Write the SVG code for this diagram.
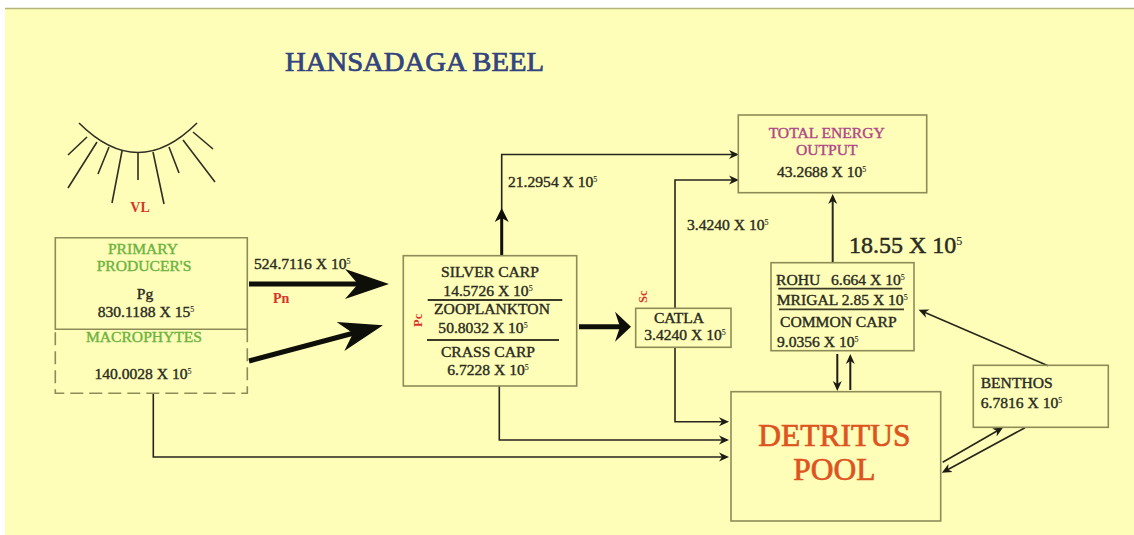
<svg xmlns="http://www.w3.org/2000/svg" width="1134" height="535" viewBox="0 0 1134 535">
<style>
text{font-family:"Liberation Serif","Times New Roman",serif;font-size:15.6px;fill:#2b2b22;stroke:#2b2b22;stroke-width:.4}
.m{text-anchor:middle}
.g{fill:#6db340;stroke:#6db340}
.r{fill:#d8332a;stroke:#d8332a;font-size:14px;font-weight:bold;stroke-width:0}
.rs{font-size:12.5px}
.p{fill:#b0468a;stroke:#b0468a}
.s{font-size:8px;stroke-width:.1}
.b{fill:none;stroke:#8d8c58;stroke-width:1.6}
.rule{stroke:#3a3a28;stroke-width:1.8}
.thin{fill:none;stroke:#26261c;stroke-width:1.6;marker-end:url(#ah)}
.lash{fill:none;stroke:#2f2f24;stroke-width:1.6}
</style>
<defs>
<marker id="ah" markerUnits="userSpaceOnUse" markerWidth="12" markerHeight="12" refX="3" refY="6" orient="auto"><path d="M0,1.500L10,6L0,10.500L3,6Z" fill="#1c1c14"/></marker>
<marker id="big" markerUnits="userSpaceOnUse" markerWidth="46" markerHeight="34" refX="14" refY="17" orient="auto"><path d="M0,2L44,17L0,32L13,17Z" fill="#0f0f0a"/></marker>
<marker id="mid" markerUnits="userSpaceOnUse" markerWidth="18" markerHeight="32" refX="5" refY="16" orient="auto"><path d="M0,1L16,16L0,31L5,16Z" fill="#0f0f0a"/></marker>
<marker id="up" markerUnits="userSpaceOnUse" markerWidth="16" markerHeight="16" refX="4" refY="8" orient="auto"><path d="M0,1L14,8L0,15L4,8Z" fill="#0f0f0a"/></marker>
</defs>
<rect width="1134" height="535" fill="#fff"/>
<rect x="5" y="9" width="1129" height="526" fill="#fefeb8"/>
<line x1="5" y1="8.500" x2="1134" y2="8.500" stroke="#b5b47a" stroke-width="1.500"/>
<text x="285" y="71" textLength="259" lengthAdjust="spacingAndGlyphs" style="font-size:27px;fill:#32437f;stroke:#32437f;stroke-width:.7">HANSADAGA BEEL</text>
<g id="sun">
<path class="lash" d="M79,123Q138,182 197,123M87,137L68,155M97,142L68,188M109,147L98,174M122,151L112,203M138,153V180M153,152L164,204M169,147L179,173M183,140L215,182M193,132L213,149"/>
<text class="r m" x="140" y="212">VL</text>
</g>
<g id="connectors">
<path class="thin" d="M153.300,393.300V457H722"/>
<path class="thin" d="M499.300,386V440H722"/>
<path class="thin" d="M675,347.300V421.700H722"/>
<path class="thin" d="M501.700,222V154.500H732"/>
<path class="thin" d="M675,308.300V180H732"/>
<path style="fill:none;stroke:#2a2a1e;stroke-width:2;marker-end:url(#ah)" d="M832.700,262.300V201"/>
<path style="fill:none;stroke:#1c1c14;stroke-width:2;marker-end:url(#ah)" d="M837.300,354V384"/>
<path style="fill:none;stroke:#1c1c14;stroke-width:2;marker-end:url(#ah)" d="M850.300,390V361"/>
<path class="thin" d="M1048,365.700L925,312.500"/>
<path class="thin" d="M942.700,462.300L997,431"/>
<path class="thin" d="M1025,427.700L948,469.500"/>
<path style="fill:none;stroke:#0f0f0a;stroke-width:5;marker-end:url(#big)" d="M249,284H359"/>
<path style="fill:none;stroke:#0f0f0a;stroke-width:5;marker-end:url(#big)" d="M249,361L354,333"/>
<path style="fill:none;stroke:#0f0f0a;stroke-width:5;marker-end:url(#mid)" d="M579,326.700H620"/>
<path style="fill:none;stroke:#0f0f0a;stroke-width:3;marker-end:url(#up)" d="M501.700,255.700V218"/>
</g>
<g id="primary-producers">
<path class="b" d="M55.300,329.300V237.700H247.300V329.300H55.300Z"/>
<text class="g m" x="143" y="254">PRIMARY</text>
<text class="g m" x="144" y="271">PRODUCER'S</text>
<text class="m" x="145" y="299">Pg</text>
<text class="m" x="146" y="316.700">830.1188 X 15<tspan class="s" dy="-5">5</tspan></text>
</g>
<g id="macrophytes">
<path class="b" stroke-dasharray="13 6" d="M247.300,329.300V393.300H55.300V329.300"/>
<text class="g m" x="144" y="341.700">MACROPHYTES</text>
<text class="m" x="143" y="379">140.0028 X 10<tspan class="s" dy="-5">5</tspan></text>
</g>
<text x="254" y="269">524.7116 X 10<tspan class="s" dy="-5">5</tspan></text>
<text class="r" x="273" y="303">Pn</text>
<g id="carp-zooplankton">
<rect class="b" x="403.300" y="255.700" width="173.400" height="130.300"/>
<text class="m" x="490" y="276.700">SILVER CARP</text>
<text class="m" x="488" y="295.700">14.5726 X 10<tspan class="s" dy="-5">5</tspan></text>
<line class="rule" x1="427.700" y1="300" x2="562.300" y2="300"/>
<text class="m" x="492" y="314">ZOOPLANKTON</text>
<text class="m" x="483" y="332.700">50.8032 X 10<tspan class="s" dy="-5">5</tspan></text>
<line class="rule" x1="427" y1="340" x2="559" y2="340"/>
<text class="m" x="488" y="357">CRASS CARP</text>
<text class="m" x="488" y="375">6.7228 X 10<tspan class="s" dy="-5">5</tspan></text>
<text class="r rs" transform="translate(422,327) rotate(-90)">Pc</text>
</g>
<text x="508" y="187">21.2954 X 10<tspan class="s" dy="-5">5</tspan></text>
<g id="catla">
<rect class="b" x="635.700" y="308.300" width="95.300" height="39"/>
<text class="m" x="679" y="322.700">CATLA</text>
<text class="m" x="685" y="340">3.4240 X 10<tspan class="s" dy="-5">5</tspan></text>
<text class="r rs" transform="translate(647,303) rotate(-90)">Sc</text>
</g>
<text x="687" y="230">3.4240 X 10<tspan class="s" dy="-5">5</tspan></text>
<g id="total-energy-output">
<rect class="b" x="738.300" y="115" width="188.400" height="77.700"/>
<text class="p m" x="826.700" y="138.300">TOTAL ENERGY</text>
<text class="p m" x="826.700" y="155">OUTPUT</text>
<text x="777" y="177">43.2688 X 10<tspan class="s" dy="-5">5</tspan></text>
</g>
<text x="849" y="253" style="font-size:24px;stroke-width:.5">18.55 X 10<tspan dy="-8" style="font-size:12px;stroke-width:.1">5</tspan></text>
<g id="rohu-mrigal-common-carp">
<rect class="b" x="771" y="262.700" width="143" height="88"/>
<text x="776" y="285.300">ROHU</text>
<text x="831" y="285.300">6.664 X 10<tspan class="s" dy="-5">5</tspan></text>
<line class="rule" x1="778.300" y1="288.700" x2="902.300" y2="288.700"/>
<text x="776.700" y="305.300">MRIGAL</text>
<text x="841.700" y="305.300">2.85 X 10<tspan class="s" dy="-5">5</tspan></text>
<line class="rule" x1="779" y1="309.300" x2="904" y2="309.300"/>
<text x="780" y="326.700">COMMON CARP</text>
<text x="777" y="346.700">9.0356 X 10<tspan class="s" dy="-5">5</tspan></text>
</g>
<g id="benthos">
<rect class="b" x="973.300" y="365.300" width="135" height="62"/>
<text x="980.700" y="388.300">BENTHOS</text>
<text x="980.700" y="408.300">6.7816 X 10<tspan class="s" dy="-5">5</tspan></text>
</g>
<g id="detritus-pool">
<rect class="b" x="731" y="391.700" width="209.700" height="129.300"/>
<text class="m" x="834.300" y="446" style="font-size:31.500px;fill:#de5420;stroke:#de5420;stroke-width:.7">DETRITUS</text>
<text class="m" x="834.300" y="480" style="font-size:31.500px;fill:#de5420;stroke:#de5420;stroke-width:.7">POOL</text>
</g>
</svg>
